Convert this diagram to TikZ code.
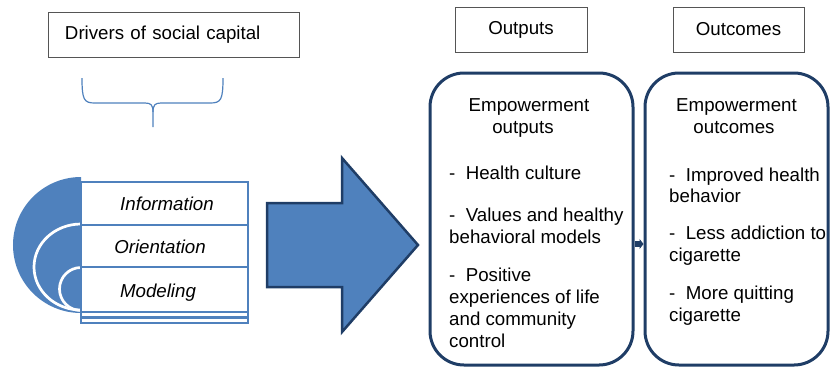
\documentclass[tikz,border=0pt]{standalone}
\usepackage{fontspec}
\setmainfont{Liberation Sans}
\usetikzlibrary{arrows.meta,calc}
\definecolor{lblue}{HTML}{4F81BD}
\definecolor{navy}{HTML}{1F3D66}
\definecolor{gbord}{HTML}{555555}
\newcommand\dfsize{\fontsize{18.7bp}{22bp}\selectfont}
\begin{document}
\begin{tikzpicture}[x=1bp,y=-1bp,font=\dfsize,
  topbox/.style={draw=gbord, line width=0.8bp, inner sep=0pt, minimum height=45bp},
  rbox/.style={draw=navy, line width=3bp, rounded corners=34bp, inner sep=0pt},
  txt/.style={anchor=base west, inner sep=0pt},
  ctxt/.style={anchor=base, inner sep=0pt},
  itxt/.style={anchor=base, inner sep=0pt, font=\dfsize\itshape}]
\useasboundingbox (0,0) rectangle (831,369);

% top boxes
\node[topbox, minimum width=251bp, text width=217bp, inner xsep=17bp, align=left] (drivers) at (173.5,35) {Drivers of social capital};
\node[topbox, minimum width=132bp] (outputs) at (521,29.5) {Outputs};
\node[topbox, minimum width=131bp] (outcomes) at (738.5,29.5) {Outcomes};

% brace
\draw[lblue, line width=1.2bp] (82,78) .. controls (82,100) and (84,103) .. (95,103) -- (145,103)
  .. controls (151,103) and (153,105) .. (153,112) -- (153,127);
\draw[lblue, line width=1.2bp] (223,78) .. controls (223,100) and (221,103) .. (210,103) -- (161,103)
  .. controls (155,103) and (153,105) .. (153,112);

% semicircles
\begin{scope}
\clip (0,150) rectangle (81,340);
\fill[lblue] (81,245) circle (68bp);
\draw[white, line width=2.7bp] (81,267) ellipse [x radius=47bp, y radius=43bp];
\draw[white, line width=2.7bp] (81,289) circle (21.5bp);
\end{scope}

% stack
\draw[lblue, line width=2.2bp, fill=white] (81,182) rectangle (248,323);
\draw[lblue, line width=2.2bp] (81,225) -- (248,225) (81,267) -- (248,267) (81,312) -- (248,312) (81,317.5) -- (248,317.5);
\node[itxt] (info) at (167,210) {Information};
\node[itxt] (orient) at (160,253) {Orientation};
\node[itxt] (model) at (158,297) {Modeling};

% big arrow
\draw[navy, line width=2.5bp, fill=lblue, line join=miter] (267,203) -- (342,203) -- (342,158) -- (418,245) -- (342,332) -- (342,287) -- (267,287) -- cycle;
\coordinate (tip) at (418,244);

% rounded boxes
\node[rbox, minimum width=203bp, minimum height=292bp] (outbox) at (531.5,219) {};
\node[rbox, minimum width=183bp, minimum height=292bp] (outcbox) at (736.5,219) {};
\draw[navy, line width=6bp, -{Triangle[length=4bp,width=10bp]}] (outbox.east |- tip) -- (outcbox.west |- tip);

% outputs text
\node[ctxt] (o1) at (529,111) {Empowerment};
\node[ctxt] (o2) at (523,133) {outputs};
\node[txt] (o3) at (449,179) {-~~Health culture};
\node[txt] (o4) at (449,221) {-~~Values and healthy};
\node[txt] (o5) at (449,243) {behavioral models};
\node[txt] (o6) at (449,281) {-~~Positive};
\node[txt] (o7) at (449,303) {experiences of life};
\node[txt] (o8) at (449,325) {and community};
\node[txt] (o9) at (449,347) {control};

% outcomes text
\node[ctxt] (c1) at (736.5,111) {Empowerment};
\node[ctxt] (c2) at (734,133) {outcomes};
\node[txt] (c3) at (669,181) {-~~Improved health};
\node[txt] (c4) at (669,202) {behavior};
\node[txt] (c5) at (669,239) {-~~Less addiction to};
\node[txt] (c6) at (669,261) {cigarette};
\node[txt] (c7) at (669,299) {-~~More quitting};
\node[txt] (c8) at (669,321) {cigarette};
\end{tikzpicture}
\end{document}
